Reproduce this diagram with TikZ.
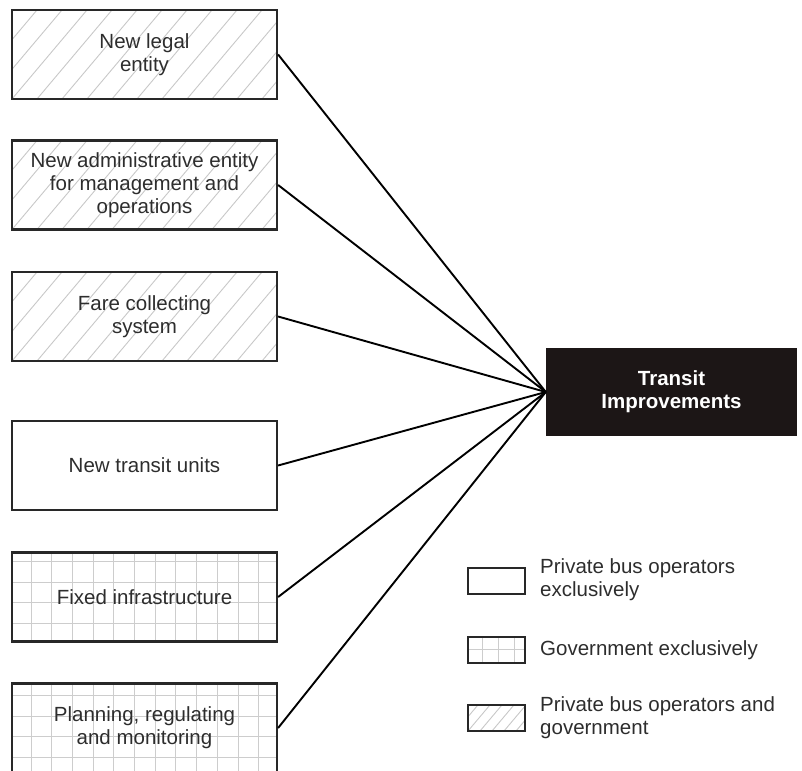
\documentclass[tikz,border=0pt]{standalone}
\usepackage{fontspec}
\setmainfont{Liberation Sans}
\definecolor{ink}{RGB}{45,45,45}
\definecolor{edge}{RGB}{40,40,40}
\definecolor{hatchgray}{RGB}{200,200,200}
\definecolor{gridgray}{RGB}{205,205,205}
\definecolor{darkfill}{RGB}{28,22,22}
\begin{document}
\begin{tikzpicture}[x=1pt,y=-1pt,
  every node/.style={font=\fontsize{20.5}{23}\selectfont, text=ink, align=center, inner sep=0pt},
  box/.style={draw=edge, line width=2.2pt, minimum width=265pt, minimum height=89pt},
  legendbox/.style={draw=edge, line width=2pt, minimum width=57pt, minimum height=26pt},
  hatchline/.style={draw=hatchgray, line width=0.9pt},
  gridline/.style={draw=gridgray, line width=0.9pt},
  conn/.style={draw=black, line width=1.9pt},
  % diagonal hatching, #1 = horizontal spacing of the strokes
  hatched/.style={path picture={
      \foreach \k in {-10,...,24}
        \draw[hatchline] ([xshift=\k*#1]path picture bounding box.south west) -- ++(75pt,89pt);
    }},
  % square grid: x offset, y offset, spacing
  gridded/.style n args={3}{path picture={
      \foreach \k in {0,...,14}
        \draw[gridline] ([xshift=#1+\k*#3]path picture bounding box.north west) -- ++(0,-120pt);
      \foreach \k in {0,...,6}
        \draw[gridline] ([yshift=-#2-\k*#3]path picture bounding box.north west) -- ++(300pt,0);
    }}
]
\useasboundingbox (0,0) rectangle (802,770);

% components
\node[box, hatched=25pt] (b1) at (144.5,54.5) {New legal\\entity};
\node[box, hatched=25pt] (b2) at (144.5,185) {New administrative entity\\for management and\\operations};
\node[box, hatched=25pt] (b3) at (144.5,316.5) {Fare collecting\\system};
\node[box] (b4) at (144.5,465.5) {New transit units};
\node[box, gridded={19pt}{9pt}{20.7pt}] (b5) at (144.5,597) {Fixed infrastructure};
\node[box, gridded={19pt}{12pt}{20.7pt}] (b6) at (144.5,728) {Planning, regulating\\and monitoring};

% target
\node[fill=darkfill, minimum width=251pt, minimum height=88pt, text=white,
      font=\fontsize{20.5}{23}\selectfont\bfseries] (ti) at (671.5,392) {Transit\\Improvements};

% connectors
\foreach \b in {b1,b2,b3,b4,b5,b6}
  \draw[conn] (\b.east) -- (ti.west);

% legend
\node[legendbox] (k1) at (496.5,580.5) {};
\node[anchor=west, align=left] (k1t) at (540,580) {Private bus operators\\exclusively};
\node[legendbox, gridded={14pt}{12.5pt}{16pt}] (k2) at (496.5,649.5) {};
\node[anchor=west, align=left] (k2t) at (540,650) {Government exclusively};
\node[legendbox, hatched=12pt] (k3) at (496.5,718) {};
\node[anchor=west, align=left] (k3t) at (540,717.5) {Private bus operators and\\government};
\end{tikzpicture}
\end{document}
